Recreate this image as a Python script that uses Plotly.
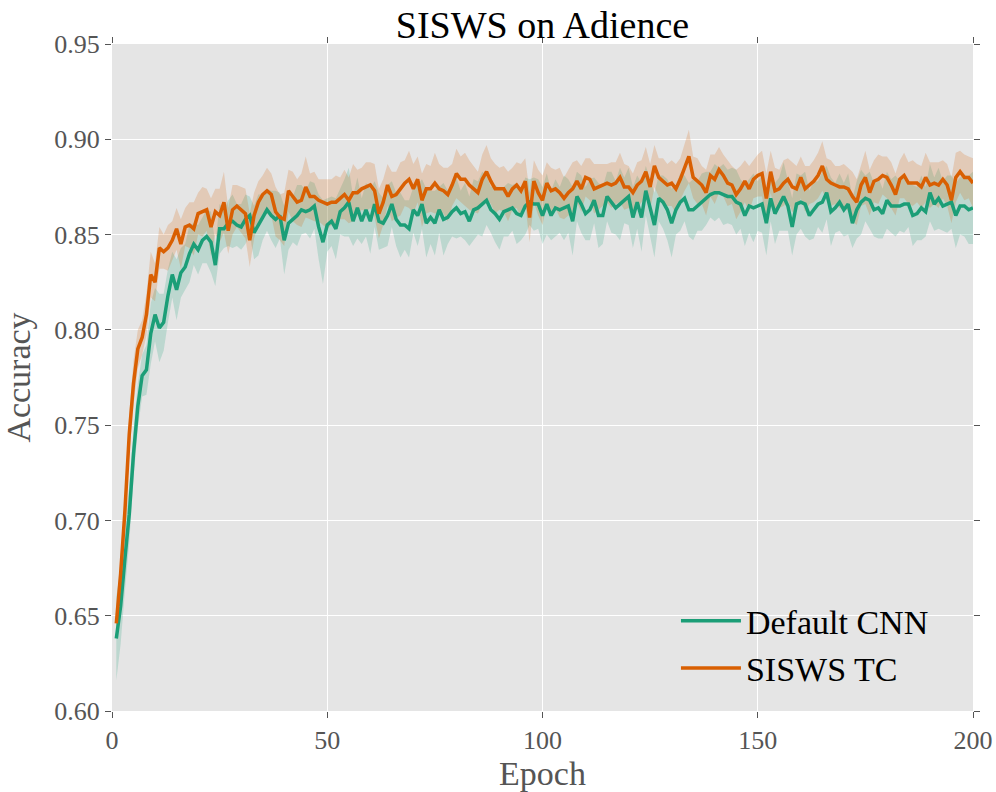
import plotly.graph_objects as go

# Mean test accuracy per epoch (epochs 1..200) and the spread across runs
epochs = list(range(1, 201))

default_cnn = [
    0.638, 0.655, 0.680, 0.703, 0.735, 0.760, 0.776, 0.779, 0.798, 0.808,
    0.801, 0.804, 0.818, 0.829, 0.821, 0.830, 0.833, 0.840, 0.845, 0.842,
    0.847, 0.849, 0.846, 0.834, 0.853, 0.853, 0.856, 0.857, 0.855, 0.854,
    0.858, 0.860, 0.851, 0.855, 0.859, 0.863, 0.860, 0.858, 0.860, 0.847,
    0.856, 0.858, 0.860, 0.863, 0.862, 0.863, 0.865, 0.854, 0.846, 0.855,
    0.857, 0.853, 0.862, 0.864, 0.867, 0.857, 0.864, 0.857, 0.863, 0.857,
    0.866, 0.857, 0.856, 0.860, 0.866, 0.858, 0.855, 0.855, 0.853, 0.863,
    0.860, 0.866, 0.856, 0.859, 0.856, 0.863, 0.858, 0.859, 0.862, 0.864,
    0.861, 0.862, 0.857, 0.863, 0.864, 0.866, 0.868, 0.863, 0.861, 0.858,
    0.862, 0.863, 0.864, 0.861, 0.860, 0.865, 0.867, 0.866, 0.866, 0.860,
    0.866, 0.860, 0.864, 0.863, 0.864, 0.865, 0.857, 0.870, 0.866, 0.861,
    0.863, 0.868, 0.860, 0.860, 0.870, 0.867, 0.864, 0.866, 0.868, 0.870,
    0.859, 0.867, 0.859, 0.873, 0.864, 0.855, 0.869, 0.867, 0.863, 0.856,
    0.863, 0.867, 0.869, 0.863, 0.863, 0.865, 0.867, 0.869, 0.871, 0.872,
    0.872, 0.871, 0.870, 0.870, 0.867, 0.866, 0.860, 0.865, 0.864, 0.865,
    0.866, 0.856, 0.869, 0.861, 0.866, 0.870, 0.865, 0.854, 0.866, 0.867,
    0.866, 0.860, 0.863, 0.866, 0.867, 0.872, 0.862, 0.864, 0.867, 0.863,
    0.866, 0.856, 0.863, 0.867, 0.869, 0.868, 0.863, 0.864, 0.861, 0.868,
    0.865, 0.865, 0.865, 0.866, 0.866, 0.860, 0.861, 0.864, 0.862, 0.872,
    0.866, 0.869, 0.865, 0.866, 0.867, 0.860, 0.865, 0.865, 0.863, 0.864,
]

default_cnn_std = [
    0.022, 0.020, 0.017, 0.015, 0.013, 0.012, 0.011, 0.013, 0.016, 0.014,
    0.018, 0.015, 0.014, 0.012, 0.016, 0.013, 0.012, 0.015, 0.011, 0.013,
    0.012, 0.014, 0.016, 0.011, 0.013, 0.010, 0.012, 0.014, 0.011, 0.012,
    0.013, 0.010, 0.014, 0.016, 0.012, 0.011, 0.013, 0.015, 0.012, 0.018,
    0.014, 0.012, 0.016, 0.013, 0.011, 0.015, 0.012, 0.017, 0.022, 0.014,
    0.013, 0.016, 0.012, 0.015, 0.018, 0.013, 0.016, 0.012, 0.014, 0.017,
    0.012, 0.015, 0.013, 0.016, 0.012, 0.014, 0.017, 0.013, 0.015, 0.012,
    0.016, 0.013, 0.018, 0.014, 0.017, 0.012, 0.019, 0.014, 0.013, 0.016,
    0.012, 0.015, 0.013, 0.016, 0.014, 0.017, 0.013, 0.012, 0.015, 0.016,
    0.013, 0.014, 0.012, 0.016, 0.013, 0.015, 0.012, 0.014, 0.013, 0.015,
    0.016, 0.013, 0.015, 0.012, 0.017, 0.014, 0.018, 0.013, 0.015, 0.014,
    0.016, 0.012, 0.017, 0.015, 0.013, 0.016, 0.014, 0.019, 0.012, 0.015,
    0.016, 0.014, 0.018, 0.013, 0.015, 0.017, 0.012, 0.014, 0.016, 0.018,
    0.013, 0.015, 0.012, 0.014, 0.016, 0.013, 0.015, 0.014, 0.012, 0.015,
    0.013, 0.016, 0.014, 0.015, 0.017, 0.013, 0.016, 0.014, 0.018, 0.013,
    0.015, 0.017, 0.012, 0.016, 0.014, 0.018, 0.013, 0.015, 0.016, 0.014,
    0.017, 0.013, 0.015, 0.012, 0.016, 0.014, 0.018, 0.013, 0.015, 0.014,
    0.016, 0.013, 0.015, 0.017, 0.012, 0.015, 0.014, 0.016, 0.013, 0.015,
    0.014, 0.016, 0.013, 0.015, 0.012, 0.016, 0.014, 0.017, 0.013, 0.015,
    0.014, 0.016, 0.013, 0.015, 0.014, 0.017, 0.015, 0.016, 0.018, 0.019,
]

sisws_tc = [
    0.646, 0.672, 0.705, 0.745, 0.772, 0.790, 0.796, 0.808, 0.829, 0.825,
    0.843, 0.841, 0.843, 0.847, 0.853, 0.845, 0.854, 0.855, 0.853, 0.861,
    0.862, 0.863, 0.854, 0.862, 0.860, 0.867, 0.852, 0.863, 0.865, 0.863,
    0.861, 0.847, 0.860, 0.867, 0.871, 0.873, 0.871, 0.862, 0.859, 0.858,
    0.873, 0.870, 0.867, 0.868, 0.875, 0.870, 0.870, 0.868, 0.867, 0.866,
    0.867, 0.867, 0.869, 0.871, 0.868, 0.872, 0.872, 0.874, 0.875, 0.876,
    0.873, 0.861, 0.867, 0.876, 0.870, 0.871, 0.874, 0.877, 0.879, 0.874,
    0.879, 0.868, 0.874, 0.874, 0.877, 0.874, 0.873, 0.871, 0.876, 0.882,
    0.879, 0.879, 0.876, 0.874, 0.872, 0.879, 0.883, 0.878, 0.874, 0.874,
    0.874, 0.870, 0.874, 0.876, 0.873, 0.878, 0.859, 0.878, 0.872, 0.868,
    0.877, 0.873, 0.874, 0.872, 0.869, 0.872, 0.874, 0.878, 0.874, 0.880,
    0.879, 0.874, 0.875, 0.876, 0.877, 0.876, 0.877, 0.880, 0.875, 0.875,
    0.872, 0.876, 0.878, 0.883, 0.875, 0.886, 0.880, 0.878, 0.876, 0.877,
    0.874, 0.879, 0.885, 0.891, 0.880, 0.878, 0.876, 0.872, 0.881, 0.879,
    0.884, 0.881, 0.877, 0.876, 0.871, 0.874, 0.878, 0.874, 0.879, 0.881,
    0.882, 0.869, 0.883, 0.873, 0.874, 0.877, 0.879, 0.875, 0.874, 0.880,
    0.874, 0.876, 0.878, 0.881, 0.886, 0.879, 0.877, 0.876, 0.875, 0.875,
    0.874, 0.870, 0.867, 0.876, 0.880, 0.872, 0.878, 0.879, 0.881, 0.880,
    0.876, 0.871, 0.879, 0.881, 0.877, 0.877, 0.877, 0.875, 0.880, 0.876,
    0.877, 0.876, 0.879, 0.876, 0.868, 0.880, 0.883, 0.880, 0.880, 0.877,
]

sisws_tc_std = [
    0.008, 0.009, 0.010, 0.011, 0.012, 0.010, 0.009, 0.011, 0.012, 0.010,
    0.011, 0.009, 0.012, 0.010, 0.011, 0.013, 0.010, 0.012, 0.014, 0.011,
    0.013, 0.011, 0.015, 0.012, 0.014, 0.016, 0.012, 0.013, 0.011, 0.012,
    0.013, 0.014, 0.012, 0.011, 0.010, 0.012, 0.011, 0.013, 0.012, 0.014,
    0.011, 0.013, 0.012, 0.014, 0.016, 0.012, 0.013, 0.011, 0.012, 0.013,
    0.012, 0.014, 0.011, 0.013, 0.012, 0.015, 0.012, 0.011, 0.013, 0.012,
    0.014, 0.013, 0.012, 0.011, 0.013, 0.012, 0.014, 0.012, 0.015, 0.013,
    0.012, 0.014, 0.013, 0.012, 0.016, 0.013, 0.012, 0.014, 0.011, 0.013,
    0.012, 0.014, 0.013, 0.012, 0.011, 0.013, 0.014, 0.012, 0.013, 0.011,
    0.012, 0.013, 0.011, 0.012, 0.014, 0.012, 0.013, 0.011, 0.012, 0.013,
    0.011, 0.012, 0.010, 0.013, 0.011, 0.012, 0.014, 0.011, 0.012, 0.010,
    0.011, 0.013, 0.012, 0.011, 0.010, 0.012, 0.011, 0.013, 0.012, 0.011,
    0.010, 0.012, 0.011, 0.013, 0.012, 0.011, 0.010, 0.012, 0.011, 0.012,
    0.013, 0.011, 0.012, 0.014, 0.011, 0.012, 0.010, 0.012, 0.011, 0.013,
    0.012, 0.011, 0.012, 0.010, 0.013, 0.012, 0.011, 0.012, 0.010, 0.011,
    0.012, 0.013, 0.011, 0.012, 0.010, 0.012, 0.011, 0.013, 0.012, 0.011,
    0.012, 0.010, 0.011, 0.012, 0.013, 0.011, 0.012, 0.010, 0.011, 0.012,
    0.011, 0.013, 0.012, 0.011, 0.014, 0.012, 0.011, 0.013, 0.010, 0.011,
    0.012, 0.011, 0.010, 0.012, 0.011, 0.012, 0.010, 0.011, 0.013, 0.012,
    0.011, 0.012, 0.010, 0.011, 0.012, 0.013, 0.011, 0.012, 0.011, 0.013,
]

series = [
    ("Default CNN", default_cnn, default_cnn_std, "#1b9e77", "rgba(27,158,119,0.2)"),
    ("SISWS TC", sisws_tc, sisws_tc_std, "#d95f02", "rgba(217,95,2,0.2)"),
]

FONT = "Liberation Serif"
GREY = "#555555"

fig = go.Figure()

# shaded spread (mean +/- std) for each run
for name, mean, std, color, fill in series:
    upper = [m + s for m, s in zip(mean, std)]
    lower = [m - s for m, s in zip(mean, std)]
    fig.add_trace(go.Scatter(x=epochs, y=upper, mode="lines", line=dict(width=0),
                             showlegend=False, hoverinfo="skip"))
    fig.add_trace(go.Scatter(x=epochs, y=lower, mode="lines", line=dict(width=0),
                             fill="tonexty", fillcolor=fill,
                             showlegend=False, hoverinfo="skip"))

# mean curves
for i, (name, mean, std, color, fill) in enumerate(series):
    fig.add_trace(go.Scatter(x=epochs, y=mean, mode="lines", name=name,
                             legendgroup=f"g{i}",
                             line=dict(color=color, width=3.5)))

axis_common = dict(
    showgrid=True, gridcolor="white", gridwidth=1.2,
    zeroline=False, showline=False, automargin=False,
    ticks="outside", ticklen=6, tickwidth=1, tickcolor=GREY,
    mirror="ticks",
    tickfont=dict(family=FONT, size=26, color=GREY),
)

fig.update_layout(
    width=996, height=792,
    margin=dict(l=112, r=23, t=44, b=81),
    paper_bgcolor="white", plot_bgcolor="#e5e5e5",
    title=dict(text="SISWS on Adience", x=0.5, xref="paper", xanchor="center",
               y=0.985, yanchor="top",
               font=dict(family=FONT, size=38, color="black")),
    xaxis=dict(range=[0, 200], tickvals=[0, 50, 100, 150, 200],
               title=dict(text="Epoch", standoff=12,
                          font=dict(family=FONT, size=34, color=GREY)),
               **axis_common),
    yaxis=dict(range=[0.60, 0.95],
               tickvals=[0.60, 0.65, 0.70, 0.75, 0.80, 0.85, 0.90, 0.95],
               tickformat=".2f",
               title=dict(text="Accuracy", standoff=14,
                          font=dict(family=FONT, size=34, color=GREY)),
               **axis_common),
    legend=dict(x=0.655, y=0.178, xanchor="left", yanchor="top",
                bgcolor="rgba(0,0,0,0)",
                font=dict(family=FONT, size=34, color="black"),
                itemwidth=60,
                tracegroupgap=0, traceorder="grouped"),
    showlegend=True,
)

fig.write_html("out.html")
